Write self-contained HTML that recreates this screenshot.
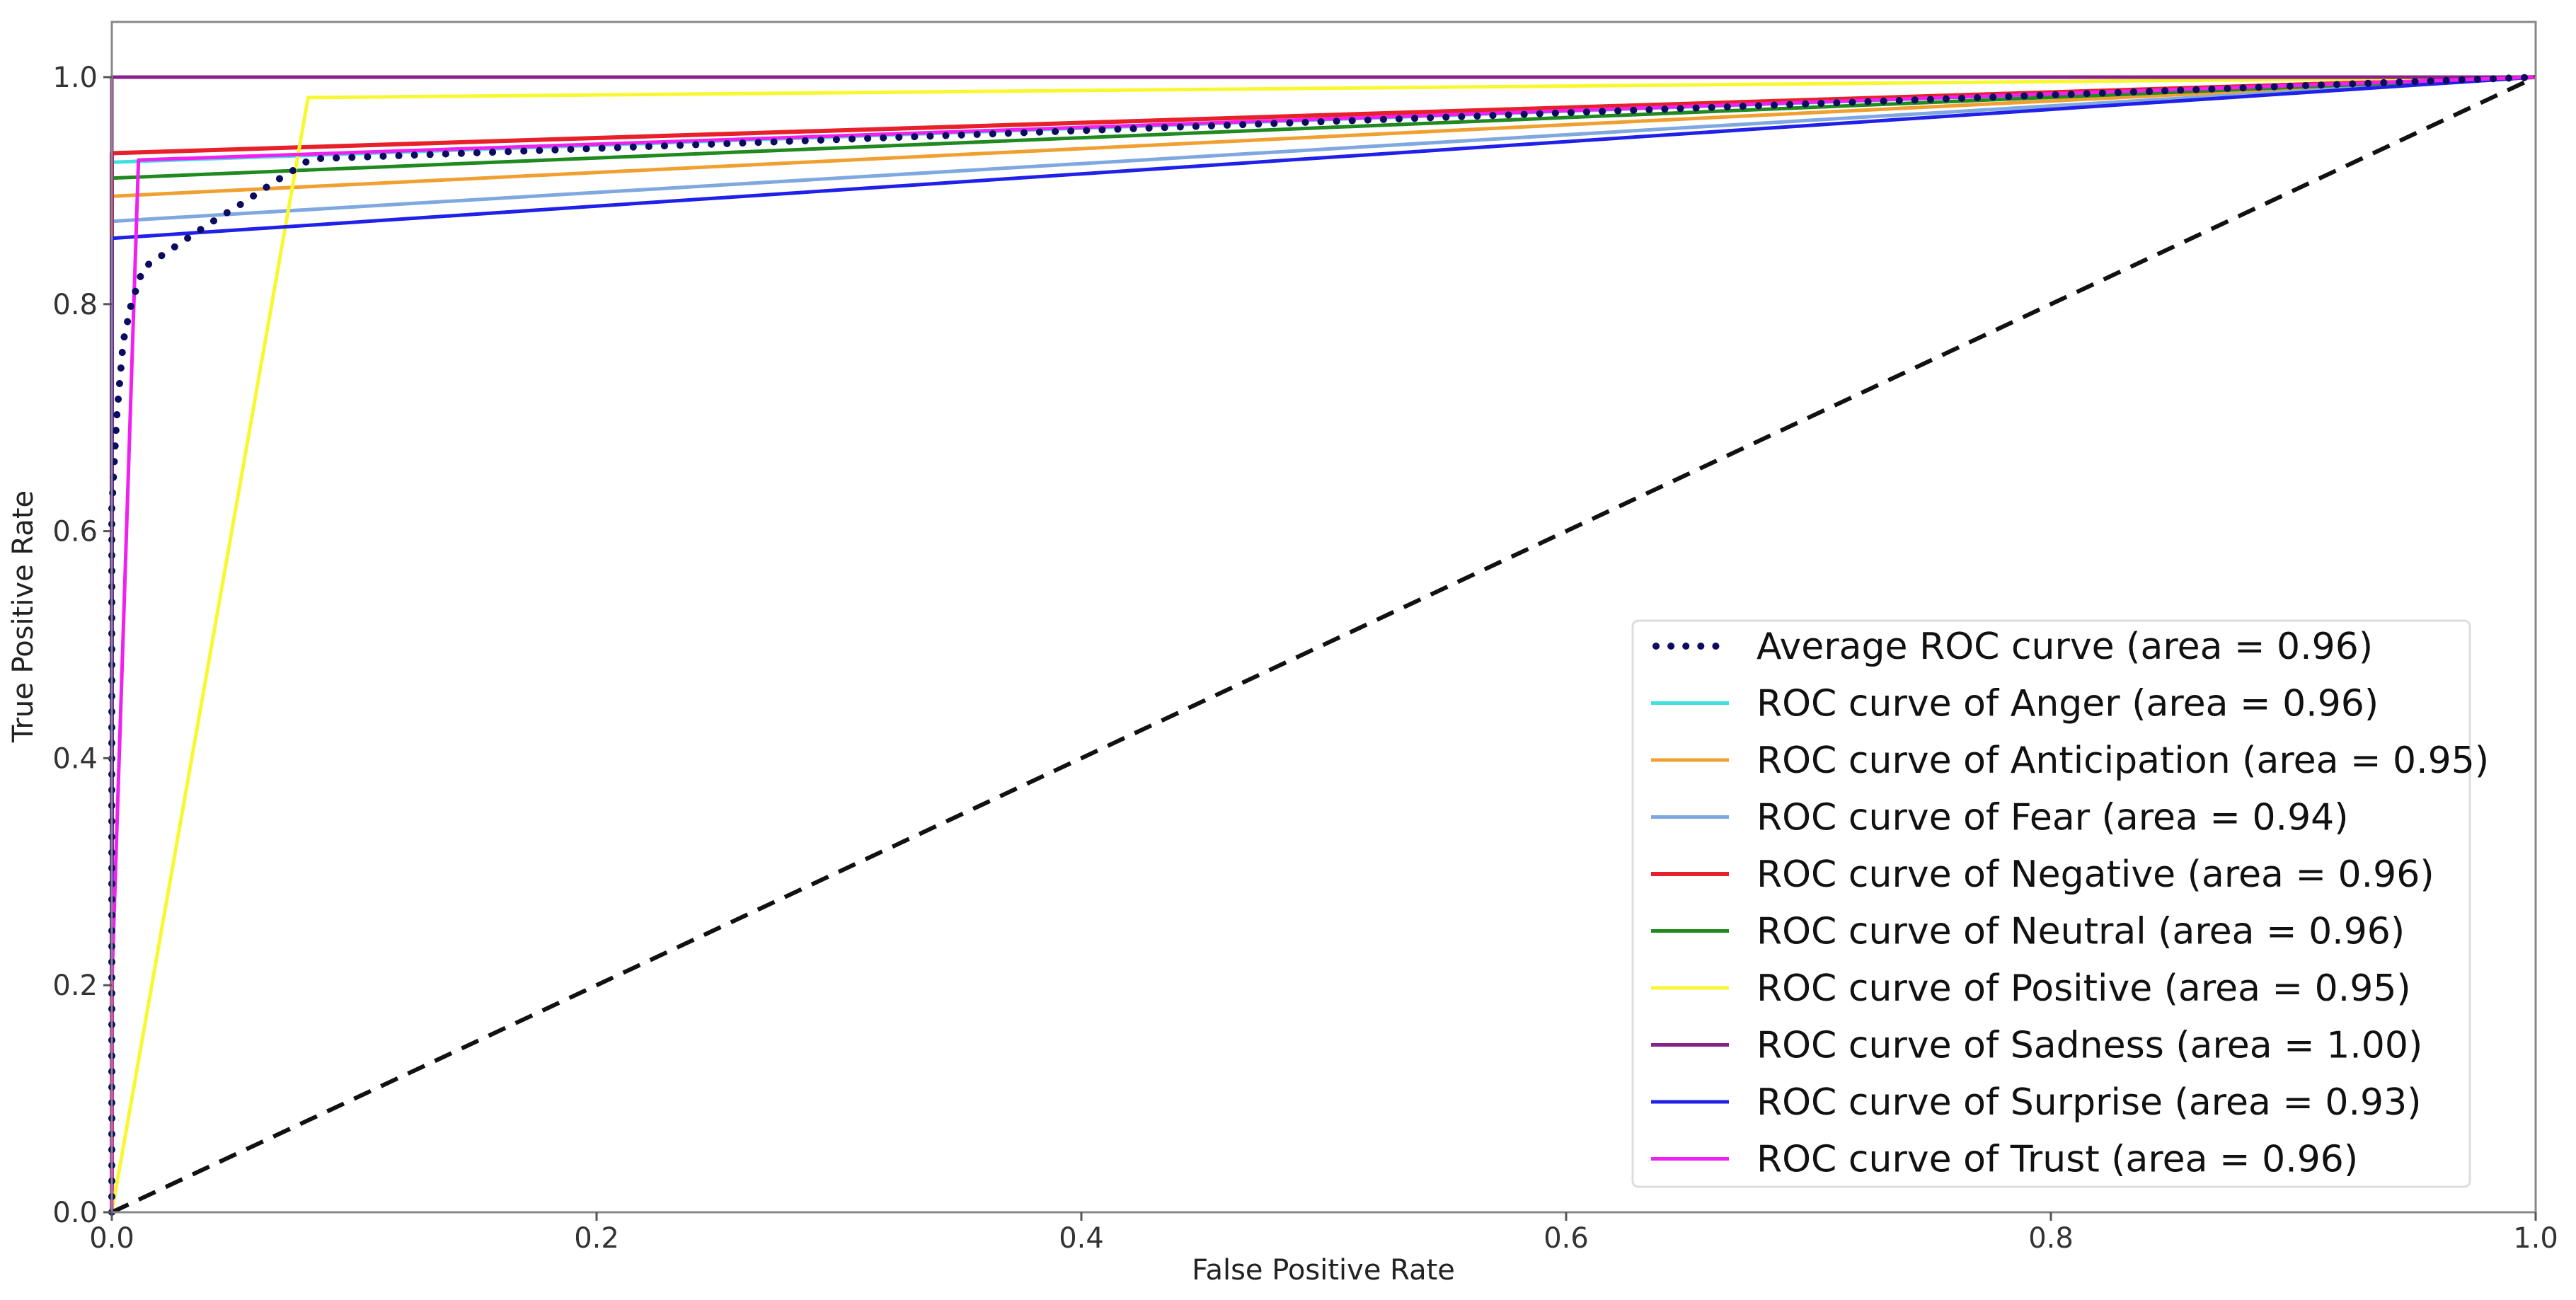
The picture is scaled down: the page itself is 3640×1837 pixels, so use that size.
<!DOCTYPE html>
<html><head><meta charset="utf-8"><style>
html,body{margin:0;padding:0;background:#fff;}
svg{display:block;font-family:"DejaVu Sans","Liberation Sans",sans-serif;}
</style></head><body>
<svg id="chart" width="3640" height="1837" viewBox="0 0 3640 1837" xmlns="http://www.w3.org/2000/svg">
<rect width="3640" height="1837" fill="#fff"/>
<g id="curves"></g>
<rect x="158" y="31" width="3425" height="1682" fill="none" stroke="#888" stroke-width="3"/>
<g id="ticks"></g>
<text x="1870" y="1808" font-size="40" text-anchor="middle" fill="#222">False Positive Rate</text>
<text transform="translate(46,871) rotate(-90)" font-size="40" text-anchor="middle" fill="#222">True Positive Rate</text>
<g id="legend"></g>
</svg>
<script>
const xTicks = [0, 0.2, 0.4, 0.6, 0.8, 1.0];
const yTicks = [0, 0.2, 0.4, 0.6, 0.8, 1.0];
const tickLabels = ["0.0", "0.2", "0.4", "0.6", "0.8", "1.0"];
const seriesNames = ["Average ROC curve (area = 0.96)", "ROC curve of Anger (area = 0.96)", "ROC curve of Anticipation (area = 0.95)", "ROC curve of Fear (area = 0.94)", "ROC curve of Negative (area = 0.96)", "ROC curve of Neutral (area = 0.96)", "ROC curve of Positive (area = 0.95)", "ROC curve of Sadness (area = 1.00)", "ROC curve of Surprise (area = 0.93)", "ROC curve of Trust (area = 0.96)"];
const seriesKeys = ["average","anger","anticipation","fear","negative","neutral","positive","sadness","surprise","trust"];
const avgFpr = [0, 0, 0.002, 0.0047, 0.008, 0.013, 0.027, 0.041, 0.054, 0.068, 0.075, 0.082, 1];
const avgTpr = [0, 0.62, 0.70, 0.767, 0.80, 0.832, 0.852, 0.872, 0.889, 0.909, 0.918, 0.928, 1];
const angerFpr = [0, 0, 1], angerTpr = [0, 0.925, 1];
const anticipationFpr = [0, 0, 1], anticipationTpr = [0, 0.895, 1];
const fearFpr = [0, 0, 1], fearTpr = [0, 0.873, 1];
const negativeFpr = [0, 0, 1], negativeTpr = [0, 0.933, 1];
const neutralFpr = [0, 0, 1], neutralTpr = [0, 0.911, 1];
const positiveFpr = [0, 0.081, 1], positiveTpr = [0, 0.982, 1];
const sadnessFpr = [0, 0, 1], sadnessTpr = [0, 1, 1];
const surpriseFpr = [0, 0, 1], surpriseTpr = [0, 0.858, 1];
const trustFpr = [0, 0, 0.011, 1], trustTpr = [0, 0.2, 0.927, 1];
const diagX = [0, 1], diagY = [0, 1];

const X0 = 158, X1 = 3583, Y0 = 1713, Y1 = 109;
const sx = v => X0 + v * (X1 - X0);
const sy = v => Y0 - v * (Y0 - Y1);
const NS = "http://www.w3.org/2000/svg";
const mk = (t, a) => { const e = document.createElementNS(NS, t); for (const k in a) e.setAttribute(k, a[k]); return e; };
const pts = (xs, ys) => xs.map((x, i) => sx(x).toFixed(1) + "," + sy(ys[i]).toFixed(1)).join(" ");

const styles = {
  average: {c: "#0b0b60", w: 10, d: "0.1 22", cap: "round"},
  anger: {c: "#40e0e0", w: 5}, anticipation: {c: "#f0a030", w: 5}, fear: {c: "#80a8e0", w: 5},
  negative: {c: "#e8202a", w: 6}, neutral: {c: "#208a20", w: 5}, positive: {c: "#f8f830", w: 5},
  sadness: {c: "#8a208a", w: 5}, surprise: {c: "#2020e8", w: 5}, trust: {c: "#f020f0", w: 5}
};
const data = {
  average: [avgFpr, avgTpr], anger: [angerFpr, angerTpr], anticipation: [anticipationFpr, anticipationTpr],
  fear: [fearFpr, fearTpr], negative: [negativeFpr, negativeTpr], neutral: [neutralFpr, neutralTpr],
  positive: [positiveFpr, positiveTpr], sadness: [sadnessFpr, sadnessTpr], surprise: [surpriseFpr, surpriseTpr],
  trust: [trustFpr, trustTpr]
};
const cg = document.getElementById("curves");
const drawOrder = ["anger","anticipation","fear","negative","neutral","positive","sadness","surprise","trust","average"];
drawOrder.forEach(k => {
  const s = styles[k];
  const p = mk("polyline", {points: pts(data[k][0], data[k][1]), fill: "none", stroke: s.c, "stroke-width": s.w, "stroke-linejoin": "round"});
  if (s.d) { p.setAttribute("stroke-dasharray", s.d); p.setAttribute("stroke-linecap", s.cap); }
  
  
  cg.appendChild(p);
});
const dg = mk("polyline", {points: pts(diagX, diagY), fill: "none", stroke: "#111", "stroke-width": 6, "stroke-dasharray": "26 16"});


cg.appendChild(dg);

const tg = document.getElementById("ticks");
xTicks.forEach((v, i) => {
  const l = mk("line", {x1: sx(v), x2: sx(v), y1: Y0, y2: Y0 + 12, stroke: "#555", "stroke-width": 3});
  
  
  tg.appendChild(l);
  const t = mk("text", {x: sx(v), y: Y0 + 50, "font-size": 40, "text-anchor": "middle", fill: "#333"});
  t.textContent = tickLabels[i];
  
  
  tg.appendChild(t);
});
yTicks.forEach((v, i) => {
  const l = mk("line", {x1: X0 - 12, x2: X0, y1: sy(v), y2: sy(v), stroke: "#555", "stroke-width": 3});
  
  
  tg.appendChild(l);
  const t = mk("text", {x: X0 - 20, y: sy(v) + 14, "font-size": 40, "text-anchor": "end", fill: "#333"});
  t.textContent = tickLabels[i];
  
  
  tg.appendChild(t);
});

const lg = document.getElementById("legend");
const box = mk("rect", {x: 2307, y: 877, width: 1183, height: 800, rx: 8, fill: "#fff", "fill-opacity": 0.9, stroke: "#ddd", "stroke-width": 3});


lg.appendChild(box);
seriesKeys.forEach((k, i) => {
  const y = 913 + i * 80.5;
  const s = styles[k];
  const l = mk("line", {x1: 2333, x2: 2443, y1: y, y2: y, stroke: s.c, "stroke-width": s.w});
  if (s.d) { l.setAttribute("stroke-dasharray", "0.1 21"); l.setAttribute("stroke-linecap", "round"); l.setAttribute("x1", 2340); }
  
  
  lg.appendChild(l);
  const t = mk("text", {x: 2482, y: y + 18, "font-size": 52, fill: "#111"});
  t.textContent = seriesNames[i];
  
  
  lg.appendChild(t);
});
</script>
</body></html>
